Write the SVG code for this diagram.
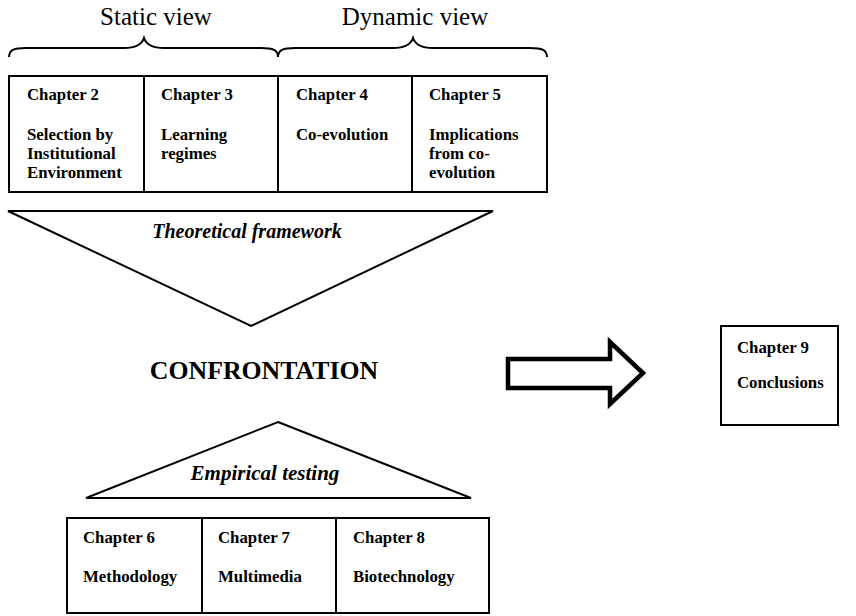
<svg xmlns="http://www.w3.org/2000/svg" width="856" height="616" viewBox="0 0 856 616">
<style>
.box{fill:#fff;stroke:#000;stroke-width:2}
.ln{fill:none;stroke:#000;stroke-width:2}
.ch{font-family:"Liberation Serif","Times New Roman",serif;font-weight:bold;font-size:16.8px;fill:#000}
.hd{font-family:"Liberation Serif","Times New Roman",serif;font-size:25px;fill:#000}
.it{font-family:"Liberation Serif","Times New Roman",serif;font-weight:bold;font-style:italic;font-size:20px;fill:#000}
.big{font-family:"Liberation Serif","Times New Roman",serif;font-weight:bold;font-size:25.8px;fill:#000}
</style>
<rect width="856" height="616" fill="#fff"/>
<g id="headers">
<text class="hd" x="156" y="25" text-anchor="middle">Static view</text>
<text class="hd" x="415" y="25" text-anchor="middle">Dynamic view</text>
<path class="ln" d="M9,57 C9,50 14,48 26,48 L124,48 C136,48 142,44 144,38 C146,44 152,48 164,48 L261,48 C273,48 278,50 278,57"/>
<path class="ln" d="M278,57 C278,50 283,48 295,48 L393,48 C405,48 411,44 413,38 C415,44 421,48 433,48 L530,48 C542,48 547,50 547,57"/>
</g>
<g id="ch2">
<rect class="box" x="9" y="76" width="135" height="116"/>
<text class="ch" x="27" y="100">Chapter 2</text>
<text class="ch" x="27" y="140">Selection by</text>
<text class="ch" x="27" y="159">Institutional</text>
<text class="ch" x="27" y="178">Environment</text>
</g>
<g id="ch3">
<rect class="box" x="144" y="76" width="134" height="116"/>
<text class="ch" x="161" y="100">Chapter 3</text>
<text class="ch" x="161" y="140">Learning</text>
<text class="ch" x="161" y="159">regimes</text>
</g>
<g id="ch4">
<rect class="box" x="278" y="76" width="134" height="116"/>
<text class="ch" x="296" y="100">Chapter 4</text>
<text class="ch" x="296" y="140">Co-evolution</text>
</g>
<g id="ch5">
<rect class="box" x="412" y="76" width="135" height="116"/>
<text class="ch" x="429" y="100">Chapter 5</text>
<text class="ch" x="429" y="140">Implications</text>
<text class="ch" x="429" y="159">from co-</text>
<text class="ch" x="429" y="178">evolution</text>
</g>
<g id="theory">
<polygon class="ln" points="8,211 493,211 251,326"/>
<text class="it" x="247" y="238" text-anchor="middle">Theoretical framework</text>
</g>
<g id="confrontation">
<text class="big" x="264" y="379" text-anchor="middle">CONFRONTATION</text>
</g>
<g id="empirical">
<polygon class="ln" points="278,422 471,498 86,498"/>
<text class="it" x="265" y="480" text-anchor="middle" style="font-size:21px">Empirical testing</text>
</g>
<g id="ch6">
<rect class="box" x="67" y="518" width="135" height="95"/>
<text class="ch" x="83" y="543">Chapter 6</text>
<text class="ch" x="83" y="582">Methodology</text>
</g>
<g id="ch7">
<rect class="box" x="202" y="518" width="134" height="95"/>
<text class="ch" x="218" y="543">Chapter 7</text>
<text class="ch" x="218" y="582">Multimedia</text>
</g>
<g id="ch8">
<rect class="box" x="336" y="518" width="153" height="95"/>
<text class="ch" x="353" y="543">Chapter 8</text>
<text class="ch" x="353" y="582">Biotechnology</text>
</g>
<g id="connectors">
<path d="M508,359 L610,359 L610,342 L643,373 L610,404 L610,388 L508,388 Z" fill="#fff" stroke="#000" stroke-width="4.5" stroke-linejoin="miter"/>
</g>
<g id="ch9">
<rect class="box" x="721" y="326" width="117" height="99"/>
<text class="ch" x="737" y="353">Chapter 9</text>
<text class="ch" x="737" y="388">Conclusions</text>
</g>
</svg>
